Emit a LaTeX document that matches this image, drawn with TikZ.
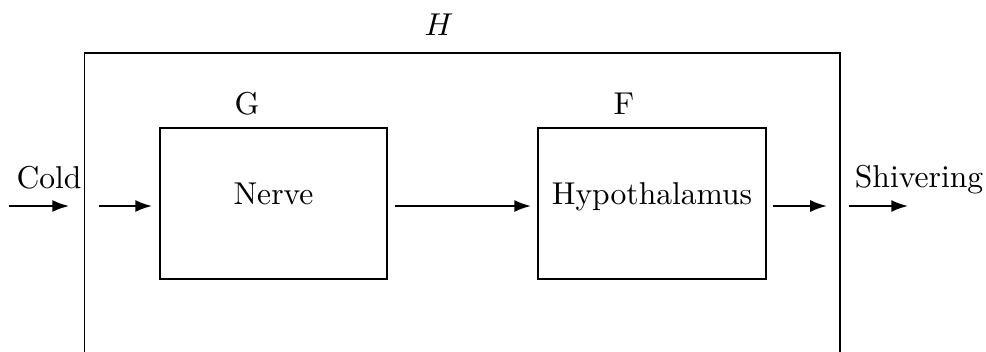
\documentclass[tikz,border=0pt]{standalone}
\usetikzlibrary{arrows.meta}
\begin{document}
\begin{tikzpicture}[x=0.3165pt,y=-0.3165pt,
  flow/.style={line width=0.6pt,-{Latex[length=5.3pt,width=3.8pt]}},
  blockbox/.style={draw,line width=0.6pt,rectangle,inner sep=0pt,minimum height=47.8pt,text height=6.83pt,text depth=5.9pt},
  lbl/.style={anchor=base,inner sep=0pt}]
\useasboundingbox (0,0) rectangle (986,351);
\clip (0,0) rectangle (986,351);
% outer system box H
\node[draw,line width=0.6pt,rectangle,inner sep=0pt,minimum width=239.1pt,minimum height=96.85pt] (outer) at (462.25,206) {};
\node[lbl] (hlab) at (439,35) {$H$};
% inner blocks
\node[blockbox,minimum width=71.85pt] (nerve) at (273.5,203.5) {Nerve};
\node[blockbox,minimum width=72.2pt] (hypo) at (652,203.5) {Hypothalamus};
\node[lbl] (glab) at (247,114) {G};
\node[lbl] (flab) at (624,114) {F};
% input / output
\coordinate (in) at (9,206);
\coordinate (out) at (908,206);
\node[lbl] (cold) at (49,188) {Cold};
\node[lbl] (shiv) at (919,187) {Shivering};
% connectors
\draw[flow,shorten >=14.5*0.3165pt] (in) -- (outer.west);
\draw[flow] ([xshift=15.5*0.3165pt]outer.west) -- ([xshift=-7*0.3165pt]nerve.west |- outer.west);
\draw[flow] ([xshift=7*0.3165pt]nerve.east |- outer.west) -- ([xshift=-6*0.3165pt]hypo.west |- outer.west);
\draw[flow] ([xshift=6*0.3165pt]hypo.east |- outer.east) -- ([xshift=-14*0.3165pt]outer.east);
\draw[flow] ([xshift=8*0.3165pt]outer.east) -- (out);
\end{tikzpicture}
\end{document}
